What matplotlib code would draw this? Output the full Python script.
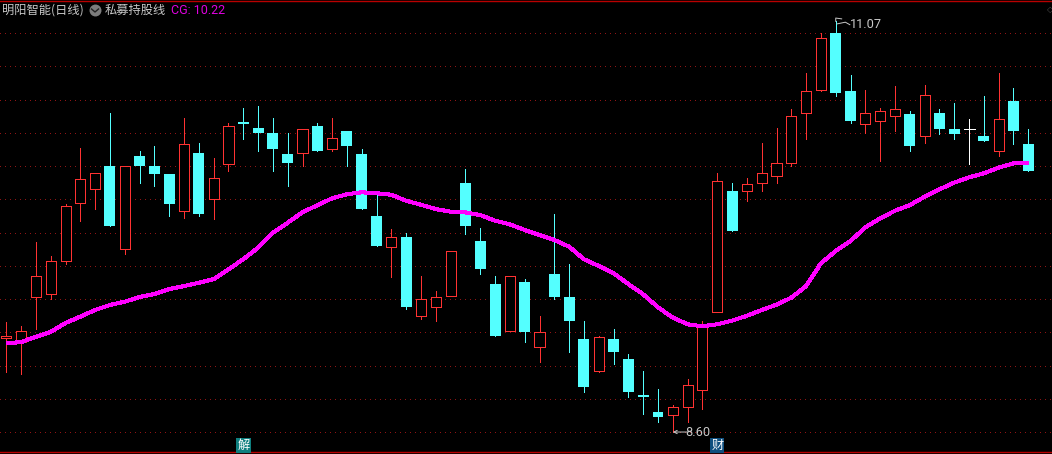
# -*- coding: UTF-8 -*-
from matplotlib import pyplot as plt
from matplotlib.lines import Line2D
import numpy as np

plt.rcParams['font.family'] = ['Noto Sans CJK SC', 'DejaVu Sans']

# 日K 数据
opens = [9.165, 9.14, 9.41, 9.43, 9.63, 9.98, 10.06, 10.20, 9.70, 10.26,
         10.20, 10.15, 9.93, 10.28, 10.00, 10.21, 10.465, 10.43, 10.40, 10.27,
         10.28, 10.44, 10.30, 10.41, 10.27, 9.90, 9.71, 9.77, 9.30, 9.35,
         9.42, 10.10, 9.75, 9.49, 9.21, 9.50, 9.11, 9.55, 9.41, 9.16,
         8.97, 9.16, 9.04, 8.822, 8.72, 8.70, 8.75, 8.85, 9.32, 10.05,
         10.05, 10.10, 10.14, 10.22, 10.52, 10.66, 11.00, 10.65, 10.45, 10.47,
         10.50, 10.51, 10.38, 10.52, 10.42, 10.42, 10.38, 10.29, 10.59, 10.33]
highs = [9.26, 9.24, 9.74, 9.66, 9.97, 10.31, 10.16, 10.52, 10.20, 10.29,
         10.32, 10.15, 10.49, 10.34, 10.25, 10.46, 10.55, 10.56, 10.49, 10.40,
         10.42, 10.46, 10.49, 10.41, 10.30, 10.04, 9.82, 9.80, 9.54, 9.45,
         9.69, 10.18, 9.83, 9.54, 9.54, 9.52, 9.30, 9.91, 9.61, 9.27,
         9.18, 9.22, 9.07, 8.97, 8.86, 8.76, 8.92, 9.27, 10.16, 10.10,
         10.13, 10.34, 10.43, 10.54, 10.76, 11.00, 11.07, 10.75, 10.66, 10.55,
         10.68, 10.53, 10.69, 10.54, 10.58, 10.48, 10.62, 10.76, 10.67, 10.42]
lows = [8.96, 8.95, 9.22, 9.40, 9.61, 9.87, 9.94, 9.84, 9.67, 10.10,
        10.08, 9.90, 9.89, 9.90, 9.88, 10.17, 10.36, 10.29, 10.17, 10.08,
        10.20, 10.29, 10.29, 10.20, 9.94, 9.72, 9.53, 9.34, 9.28, 9.27,
        9.42, 9.79, 9.55, 9.18, 9.21, 9.14, 9.02, 9.40, 9.08, 8.84,
        8.96, 9.01, 8.81, 8.71, 8.66, 8.60, 8.66, 8.74, 9.32, 9.81,
        9.99, 10.05, 10.10, 10.20, 10.36, 10.65, 10.62, 10.46, 10.40, 10.23,
        10.41, 10.29, 10.34, 10.39, 10.36, 10.21, 10.35, 10.26, 10.33, 10.17]
closes = [9.177, 9.21, 9.54, 9.63, 9.96, 10.12, 10.16, 9.84, 10.20, 10.20,
          10.15, 9.97, 10.33, 9.91, 10.13, 10.44, 10.453, 10.40, 10.30, 10.22,
          10.42, 10.29, 10.37, 10.32, 9.94, 9.72, 9.77, 9.35, 9.40, 9.41,
          9.69, 9.84, 9.58, 9.18, 9.54, 9.20, 9.20, 9.41, 9.27, 8.87,
          9.17, 9.08, 8.84, 8.811, 8.69, 8.75, 8.88, 9.24, 10.11, 9.81,
          10.09, 10.16, 10.22, 10.50, 10.65, 10.97, 10.64, 10.47, 10.52, 10.53,
          10.54, 10.32, 10.63, 10.42, 10.39, 10.42, 10.35, 10.48, 10.41, 10.17]
# 私募持股线
cg = [9.134, 9.141, 9.173, 9.202, 9.256, 9.294, 9.334, 9.364, 9.384, 9.412,
      9.430, 9.460, 9.478, 9.498, 9.520, 9.579, 9.639, 9.709, 9.799, 9.859,
      9.922, 9.964, 10.006, 10.030, 10.042, 10.036, 10.027, 9.991, 9.967, 9.941,
      9.925, 9.921, 9.905, 9.871, 9.849, 9.815, 9.785, 9.755, 9.715, 9.639,
      9.599, 9.555, 9.490, 9.428, 9.350, 9.288, 9.248, 9.236, 9.248, 9.270,
      9.299, 9.334, 9.366, 9.408, 9.478, 9.615, 9.689, 9.749, 9.831, 9.885,
      9.931, 9.965, 10.015, 10.060, 10.100, 10.132, 10.156, 10.190, 10.216, 10.22]
grid_prices = [8.6, 8.8, 9.0, 9.2, 9.4, 9.6, 9.8, 10.0, 10.2, 10.4, 10.6, 10.8, 11.0]

RED = '#ff3232'
CYAN = '#54ffff'
MAGENTA = '#ff00ff'
GREY = '#c8c8c8'

fig = plt.figure(figsize=(10.52, 4.54), dpi=100, facecolor='black')
ax = fig.add_axes([0, 1.7 / 454, 1, 451.8 / 454], facecolor='black')
ax.set_xlim(-0.425, 70.6)
ax.set_ylim(8.478, 11.1955)

x = np.arange(len(opens))
o = np.array(opens)
h = np.array(highs)
l = np.array(lows)
c = np.array(closes)
up = c > o
down = c < o
flat = c == o

ax.set_yticks(grid_prices)
ax.set_xticks([])
ax.tick_params(length=0, labelleft=False)
ax.grid(axis='y', color='#901414', linewidth=0.72, linestyle=(0, (1, 5)))
for line in ax.get_ygridlines():
    line.set_antialiased(False)
ax.set_axisbelow(True)
for name, spine in ax.spines.items():
    spine.set_visible(name in ('top', 'bottom'))
    spine.set_color('#b80000')
    spine.set_linewidth(1.0)

# 影线
ax.vlines(x[up], l[up], h[up], color=RED, linewidth=0.72, zorder=2, antialiased=False)
ax.vlines(x[down], l[down], h[down], color=CYAN, linewidth=0.72, zorder=2, antialiased=False)
ax.vlines(x[flat], l[flat], h[flat], color='white', linewidth=0.72, zorder=2, antialiased=False)
# 实体
ax.bar(x[up], (c - o)[up], bottom=o[up], width=0.68, facecolor='black', edgecolor=RED,
       linewidth=0.72, zorder=3, antialiased=False)
ax.bar(x[down], (o - c)[down], bottom=c[down], width=0.74, facecolor=CYAN, edgecolor='none',
       zorder=3, antialiased=False)
ax.hlines(o[flat], x[flat] - 0.37, x[flat] + 0.37, color='white', linewidth=0.72, zorder=3,
          antialiased=False)

ax.plot(x, cg, color=MAGENTA, linewidth=2.2, zorder=4, solid_capstyle='butt', antialiased=False)

# 最高最低标注
ax.plot([56, 56, 56.4], [11.07, 11.09, 11.085], color=GREY, linewidth=0.7, zorder=5)
ax.plot([56.1, 56.65, 56.95], [11.055, 11.065, 11.05], color=GREY, linewidth=0.7, zorder=5)
ax.text(56.93, 11.05, '11.07', color=GREY, fontsize=9.2, va='center', ha='left',
        family=['Roboto', 'DejaVu Sans'], zorder=5)
ax.annotate('', xy=(45, 8.60), xytext=(46, 8.60), zorder=5,
            arrowprops=dict(arrowstyle='->', color=GREY, linewidth=0.7, shrinkA=0, shrinkB=0,
                            mutation_scale=6))
ax.text(45.85, 8.60, '8.60', color=GREY, fontsize=9.2, va='center', ha='left',
        family=['Roboto', 'DejaVu Sans'], zorder=5)

# 底部信息地雷
ax.text(16, 8.52, '解', color='white', fontsize=8.8, va='center', ha='center', zorder=5,
        bbox=dict(facecolor='#0f7f7f', edgecolor='none', pad=0.8))
ax.text(48, 8.52, '财', color='white', fontsize=8.8, va='center', ha='center', zorder=5,
        bbox=dict(facecolor='#0f4f7f', edgecolor='none', pad=0.8))

# 顶部标题
fig.text(2 / 1052, 1 - 10 / 454, '明阳智能(日线)', color=GREY, fontsize=8.8, va='center', ha='left')
fig.add_artist(Line2D([95 / 1052], [1 - 10 / 454], marker='o', markersize=8.6, color='#7c7c7c',
                      markeredgecolor='none', linestyle='none'))
fig.add_artist(Line2D([91.5 / 1052, 95 / 1052, 98.5 / 1052],
                      [1 - 9 / 454, 1 - 12 / 454, 1 - 9 / 454], color='#222222', linewidth=1.0))
fig.text(105 / 1052, 1 - 10 / 454, '私募持股线', color=GREY, fontsize=8.8, va='center', ha='left')
fig.text(171 / 1052, 1 - 10 / 454, 'CG: 10.22', color='#e000e0', fontsize=9, va='center', ha='left',
         family=['Roboto', 'DejaVu Sans'])
fig.text(1050 / 1052, 1 - 10 / 454, '◇', color='#555555', fontsize=6, va='center', ha='center',
         family=['DejaVu Sans'])

fig.savefig('out.png', dpi=100, facecolor='black')
